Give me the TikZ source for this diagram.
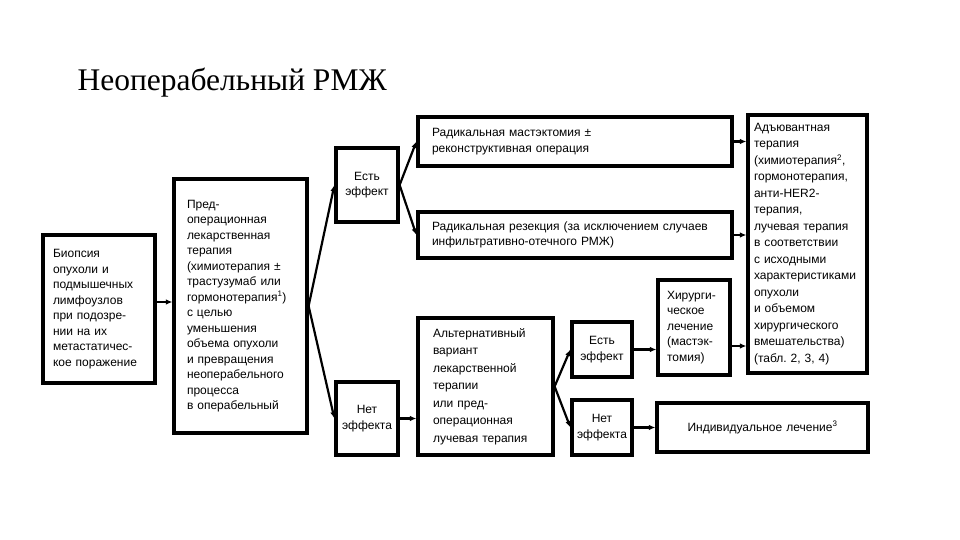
\documentclass[tikz,border=0pt]{standalone}
\usepackage{fontspec}
\setmainfont{Liberation Serif}
\newfontfamily\boxfont{Liberation Sans}
\usepackage{tikz}
\usetikzlibrary{arrows.meta}
\frenchspacing

\tikzset{
  blk/.style={draw, rectangle, line width=3.2pt, align=left, inner ysep=0pt,
    font=\boxfont\fontsize{12pt}{15.5pt}\selectfont},
  eff/.style={blk, align=center, inner xsep=3pt},
  arr/.style={-{Latex[length=6.5pt,width=5.5pt]}, line width=2.2pt},
}

\begin{document}
\begin{tikzpicture}[x=1pt, y=-1pt]%
\useasboundingbox[fill=white] (0,0) rectangle (960,540);%
\node[anchor=base west, font=\fontsize{31.5pt}{36pt}\selectfont] (title) at (74,91) {Неоперабельный РМЖ};%
% left column
\node[blk, inner xsep=10pt, text width=92pt, minimum height=148pt] (biopsy) at (99,309) {Биопсия\\опухоли и\\подмышечных\\лимфоузлов\\при подозре-\\нии на их\\метастатичес-\\кое поражение};%
\node[blk, inner xsep=13pt, text width=107pt, minimum height=254pt] (preop) at (240.5,306) {Пред-\\операционная\\лекарственная\\терапия\\(химиотерапия ±\\трастузумаб или\\гормонотерапия\textsuperscript{1})\\с целью\\уменьшения\\объема опухоли\\и превращения\\неоперабельного\\процесса\\в операбельный};%
% effect / no effect
\node[eff, text width=56pt, minimum height=74pt] (yes1) at (367,185) {Есть\\эффект};%
\node[eff, text width=56pt, minimum height=73pt] (no1) at (367,418.5) {Нет\\эффекта};%
% operations
\node[blk, inner xsep=14pt, text width=286pt, minimum height=49pt] (mast) at (575,141.5) {Радикальная мастэктомия ±\\реконструктивная операция};%
\node[blk, inner xsep=14pt, text width=286pt, minimum height=46pt] (resect) at (575,235) {Радикальная резекция (за исключением случаев\\инфильтративно-отечного РМЖ)};%
\node[blk, inner xsep=15pt, text width=105pt, minimum height=137pt, font=\boxfont\fontsize{12pt}{17.5pt}\selectfont] (alt) at (485.5,386.5) {Альтернативный\\вариант\\лекарственной\\терапии\\или пред-\\операционная\\лучевая терапия};%
\node[eff, text width=54pt, minimum height=55pt] (yes2) at (602,349.5) {Есть\\эффект};%
\node[eff, text width=54pt, minimum height=55pt] (no2) at (602,427.5) {Нет\\эффекта};%
\node[blk, inner xsep=9pt, text width=54pt, minimum height=95pt] (surg) at (694,327.5) {Хирурги-\\ческое\\лечение\\(мастэк-\\томия)};%
\node[blk, align=center, inner xsep=10pt, text width=191pt, minimum height=49pt] (indiv) at (762.5,427.5) {Индивидуальное лечение\textsuperscript{3}};%
\node[blk, inner xsep=6pt, text width=107pt, minimum height=258pt, font=\boxfont\fontsize{12pt}{16.5pt}\selectfont] (adj) at (807.5,244) {Адъювантная\\терапия\\(химиотерапия\textsuperscript{2},\\гормонотерапия,\\анти-HER2-\\терапия,\\лучевая терапия\\в соответствии\\с исходными\\характеристиками\\опухоли\\и объемом\\хирургического\\вмешательства)\\(табл. 2, 3, 4)};%
% connectors
\draw[arr] (biopsy.east |- 0,302) -- (preop.west |- 0,302);%
\draw[arr] (preop.east) -- (yes1.west);%
\draw[arr] (preop.east) -- (no1.west);%
\draw[arr] (yes1.east) -- (mast.west);%
\draw[arr] (yes1.east) -- (resect.west);%
\draw[arr] (no1.east) -- (alt.west |- no1.east);%
\draw[arr] (alt.east) -- (yes2.west);%
\draw[arr] (alt.east) -- (no2.west);%
\draw[arr] (yes2.east) -- (surg.west |- yes2.east);%
\draw[arr] (no2.east) -- (indiv.west);%
\draw[arr] (mast.east) -- (adj.west |- mast.east);%
\draw[arr] (resect.east) -- (adj.west |- resect.east);%
\draw[arr] (surg.east |- 0,346) -- (adj.west |- 0,346);%
\end{tikzpicture}
\end{document}
